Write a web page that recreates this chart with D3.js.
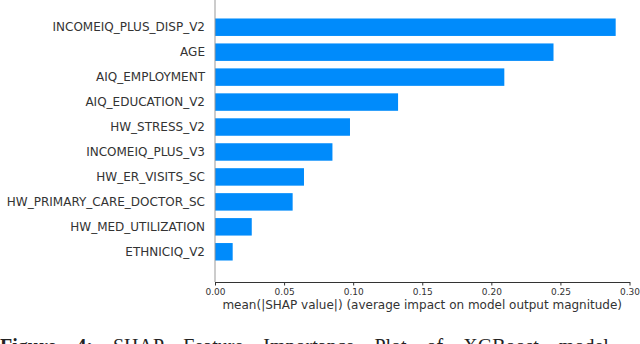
<!DOCTYPE html>
<html>
<head>
<meta charset="utf-8">
<script src="https://cdn.jsdelivr.net/npm/d3@7"></script>
<style>
  html, body { margin: 0; padding: 0; background: #fff; overflow: hidden; }
  svg { display: block; }
</style>
</head>
<body>
<div id="chart"></div>
<script>
// feature names, top to bottom
var features = ["INCOMEIQ_PLUS_DISP_V2", "AGE", "AIQ_EMPLOYMENT", "AIQ_EDUCATION_V2",
  "HW_STRESS_V2", "INCOMEIQ_PLUS_V3", "HW_ER_VISITS_SC", "HW_PRIMARY_CARE_DOCTOR_SC",
  "HW_MED_UTILIZATION", "ETHNICIQ_V2"];

// mean(|SHAP value|) per feature
var meanShap = [0.290, 0.245, 0.2094, 0.1325, 0.0977, 0.0850, 0.0644, 0.0562, 0.0266, 0.0128];

var xTicks = [0, 0.05, 0.10, 0.15, 0.20, 0.25, 0.30];

var xLabel = "mean(|SHAP value|) (average impact on model output magnitude)";
var caption = "SHAP Feature Importance Plot of XGBoost model";

var width = 640, height = 344;
var margin = {top: 0, left: 215, right: 10.5, bottom: 62};

var svg = d3.select("#chart").append("svg")
    .attr("width", width)
    .attr("height", height);

// scales
var x = d3.scaleLinear().domain([0, 0.30]).range([margin.left, width - margin.right]);
var y = d3.scaleBand().domain(features).range([11, 268]).padding(0.3);

// bars
svg.append("g").selectAll("rect")
    .data(features)
  .enter().append("rect")
    .attr("x", x(0))
    .attr("y", function(d) { return y(d); })
    .attr("width", function(d, i) { return x(meanShap[i]) - x(0); })
    .attr("height", y.bandwidth())
    .style("fill", "#008bfb");

// left line at zero
svg.append("line")
    .attr("x1", x(0)).attr("x2", x(0))
    .attr("y1", 0).attr("y2", height - margin.bottom)
    .style("stroke", "#999999")
    .style("stroke-width", 1);

// feature labels
svg.append("g").selectAll("text")
    .data(features)
  .enter().append("text")
    .attr("x", x(0) - 10)
    .attr("y", function(d) { return y(d) + y.bandwidth() / 2; })
    .attr("dy", "0.35em")
    .attr("text-anchor", "end")
    .style("font-family", "DejaVu Sans")
    .style("font-size", "12px")
    .style("fill", "#333333")
    .text(function(d) { return d; });

// x axis
var xAxis = svg.append("g")
    .attr("transform", "translate(0," + (height - margin.bottom) + ")")
    .call(d3.axisBottom(x).tickValues(xTicks).tickFormat(d3.format(".2f")).tickSizeInner(3.5).tickSizeOuter(0).tickPadding(3));

xAxis.select(".domain").style("stroke", "#333333").style("stroke-width", 1.2);
xAxis.selectAll(".tick line").style("stroke", "#333333");
xAxis.selectAll(".tick text")
    .style("font-family", "DejaVu Sans")
    .style("font-size", "9px")
    .style("fill", "#333333");

svg.append("text")
    .attr("x", (x(0) + x(0.30)) / 2)
    .attr("y", 309)
    .attr("text-anchor", "middle")
    .style("font-family", "DejaVu Sans")
    .style("font-size", "12px")
    .style("fill", "#333333")
    .text(xLabel);

// figure caption, cut off at the bottom edge
var cap = svg.append("text")
    .attr("x", 0)
    .attr("y", 353)
    .style("font-family", "Liberation Serif")
    .style("font-size", "20px")
    .style("word-spacing", "15px")
    .style("fill", "#222222");
cap.append("tspan").style("font-weight", "bold").text("Figure 4: ");
cap.append("tspan").text(caption);
</script>
</body>
</html>
